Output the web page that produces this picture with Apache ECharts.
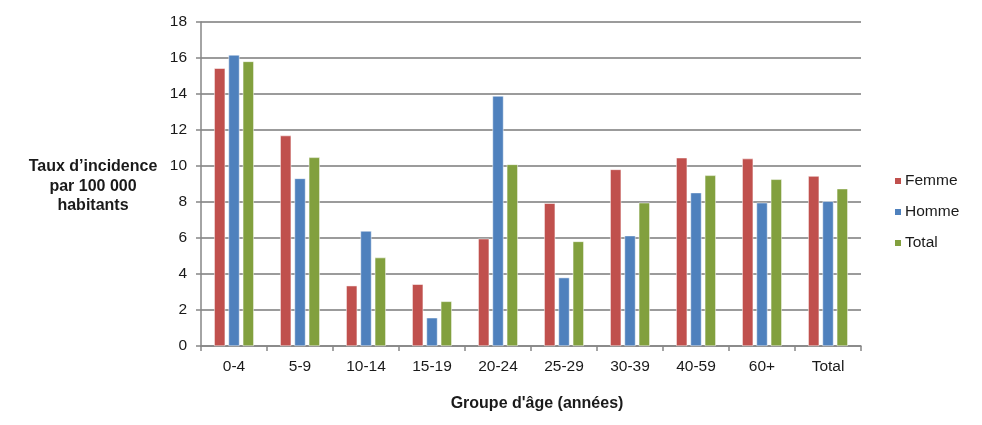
<!DOCTYPE html>
<html>
<head>
<meta charset="utf-8">
<script src="https://cdn.jsdelivr.net/npm/echarts@6/dist/echarts.min.js"></script>
<style>
  html, body { margin: 0; padding: 0; background: #fff; }
  #chart { width: 982px; height: 425px; }
</style>
</head>
<body>
<div id="chart"></div>
<script>
const ageGroups = ['0-4', '5-9', '10-14', '15-19', '20-24', '25-29', '30-39', '40-59', '60+', 'Total'];
const femme = [15.43, 11.69, 3.35, 3.43, 5.96, 7.93, 9.81, 10.46, 10.41, 9.44];
const homme = [16.17, 9.31, 6.39, 1.57, 13.89, 3.80, 6.13, 8.52, 7.96, 8.04];
const total = [15.81, 10.48, 4.91, 2.48, 10.09, 5.81, 7.96, 9.48, 9.26, 8.74];

let chart = echarts.init(document.getElementById('chart'));
const font = 'Liberation Sans, Arial, sans-serif';

function bar(name, data, color) {
    return {
        name: name,
        type: 'bar',
        data: data,
        barWidth: 11,
        barGap: '30%',
        itemStyle: { color: color, borderColor: '#fff', borderWidth: 0.5 }
    };
}

let option = {
    animation: false,
    textStyle: { fontFamily: font },
    grid: { left: 201, right: 121, top: 22, bottom: 79 },
    legend: {
        orient: 'vertical',
        left: 893,
        top: 173,
        padding: 0,
        itemGap: 15,
        itemWidth: 8,
        itemHeight: 8,
        icon: 'rect',
        textStyle: { fontSize: 15.5, color: '#1a1a1a', fontFamily: font, padding: [0, 0, 0, -2] },
        data: ['Femme', 'Homme', 'Total']
    },
    graphic: [{
        type: 'text',
        x: 93,
        y: 157,
        style: {
            text: 'Taux d’incidence\npar 100 000\nhabitants',
            textAlign: 'center',
            lineHeight: 19.5,
            fill: '#1a1a1a',
            font: 'bold 16px ' + font
        }
    }],
    xAxis: {
        type: 'category',
        data: ageGroups,
        name: "Groupe d'âge (années)",
        nameLocation: 'middle',
        nameGap: 50,
        nameTextStyle: { fontSize: 16, fontWeight: 'bold', color: '#1a1a1a', padding: [0, 0, 0, 12] },
        axisLine: { lineStyle: { color: '#868686', width: 1.5 } },
        axisTick: { show: true, length: 5, lineStyle: { color: '#868686', width: 1.5 } },
        axisLabel: { fontSize: 15.5, color: '#1a1a1a', margin: 13 }
    },
    yAxis: {
        type: 'value',
        min: 0,
        max: 18,
        interval: 2,
        axisLine: { show: true, lineStyle: { color: '#868686', width: 1.5 } },
        axisTick: { show: true, length: 5, lineStyle: { color: '#868686', width: 1.5 } },
        axisLabel: { fontSize: 15.5, color: '#1a1a1a', margin: 14 },
        splitLine: { lineStyle: { color: '#7a7a7a', width: 1.5 } }
    },
    series: [
        bar('Femme', femme, '#C0504D'),
        bar('Homme', homme, '#4F81BD'),
        bar('Total', total, '#82A03E')
    ]
};

chart.setOption(option);
</script>
</body>
</html>
